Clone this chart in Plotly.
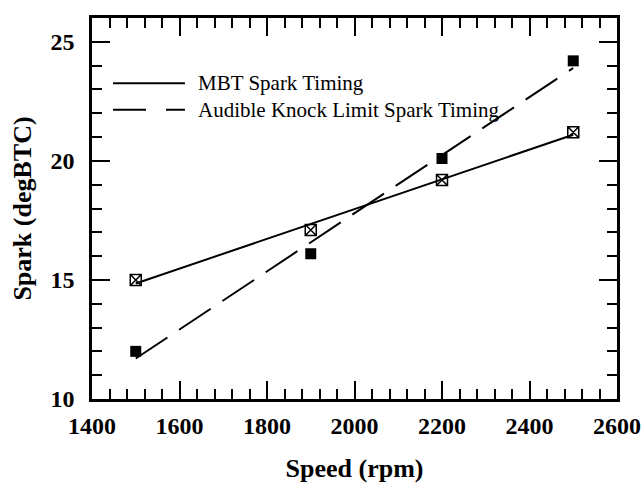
import plotly.graph_objects as go

# Data
speed = [1500, 1900, 2200, 2500]
mbt_spark = [15.0, 17.1, 19.2, 21.2]
knock_spark = [12.0, 16.1, 20.1, 24.2]

# Straight trend lines as drawn on the chart (end points)
fit_speed = [1500, 2500]
mbt_fit = [14.85, 21.1]
knock_fit = [11.7, 23.9]

series_names = ["MBT Spark Timing", "Audible Knock Limit Spark Timing"]

FONT = "Liberation Serif, Times New Roman, serif"

fig = go.Figure()

fig.add_trace(go.Scatter(x=fit_speed, y=mbt_fit, mode="lines",
                         line=dict(color="black", width=2), showlegend=False,
                         hoverinfo="skip"))
fig.add_trace(go.Scatter(x=fit_speed, y=knock_fit, mode="lines",
                         line=dict(color="black", width=2, dash="38px,14px"),
                         showlegend=False, hoverinfo="skip"))
fig.add_trace(go.Scatter(x=speed, y=mbt_spark, mode="markers", name=series_names[0],
                         marker=dict(symbol="square-x-open", size=11, color="black",
                                     line=dict(width=1.5, color="black")),
                         showlegend=False))
fig.add_trace(go.Scatter(x=speed, y=knock_spark, mode="markers", name=series_names[1],
                         marker=dict(symbol="square", size=11, color="black"),
                         showlegend=False))

# Manual legend (long line samples as in the reference)
legend_rows = [(0.829, None), (0.759, "33px,20px")]
for (ypos, dash), name in zip(legend_rows, series_names):
    fig.add_shape(type="line", xref="paper", yref="paper",
                  x0=0.04, x1=0.177, y0=ypos, y1=ypos,
                  line=dict(color="black", width=2, dash=dash))
    fig.add_annotation(xref="paper", yref="paper", x=0.198, y=ypos,
                       text=name, showarrow=False, xanchor="left", yanchor="middle",
                       font=dict(family=FONT, size=21, color="black"))

axis_common = dict(
    showline=True, linecolor="black", linewidth=2.5, mirror="ticks",
    ticks="inside", ticklen=18, tickwidth=2, tickcolor="black",
    showgrid=False, zeroline=False,
    tickfont=dict(family=FONT, size=24, color="black", weight="bold"),
)

fig.update_xaxes(
    range=[1400, 2600], tick0=1400, dtick=200,
    minor=dict(dtick=40, ticks="inside", ticklen=10, tickwidth=2, tickcolor="black", showgrid=False),
    title=dict(text="Speed (rpm)", standoff=22,
               font=dict(family=FONT, size=26, color="black", weight="bold")),
    ticklabelstandoff=3,
    **axis_common,
)
fig.update_yaxes(
    range=[10, 26], tick0=10, dtick=5,
    minor=dict(dtick=1, ticks="inside", ticklen=10, tickwidth=2, tickcolor="black", showgrid=False),
    title=dict(text="Spark (degBTC)", standoff=12,
               font=dict(family=FONT, size=26, color="black", weight="bold")),
    ticklabelstandoff=10,
    **axis_common,
)

fig.update_layout(
    width=642, height=487,
    margin=dict(l=92, r=25, t=18, b=88, autoexpand=False),
    paper_bgcolor="white", plot_bgcolor="white",
    font=dict(family=FONT, color="black"),
)

fig.write_html("out.html")
